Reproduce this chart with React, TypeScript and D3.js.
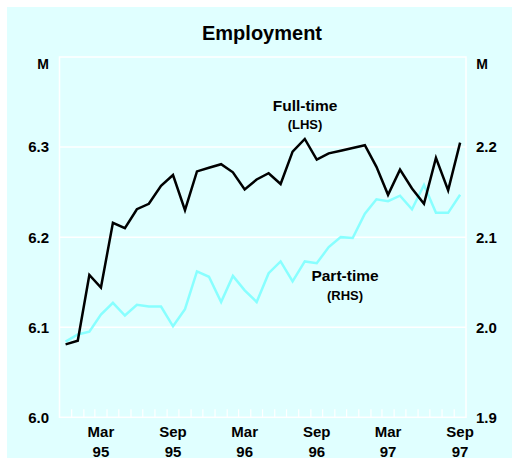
import React from 'react';
import * as d3 from 'd3';

// monthly observations, Dec 1994 .. Sep 1997
const START = new Date(1994, 11, 1);
const fullTime = [
  6.081, 6.085, 6.158, 6.144, 6.216, 6.21, 6.231, 6.237, 6.257, 6.269,
  6.23, 6.273, 6.277, 6.281, 6.272, 6.253, 6.264, 6.271, 6.259, 6.295,
  6.309, 6.286, 6.293, 6.296, 6.299, 6.302, 6.278, 6.247, 6.275, 6.254,
  6.237, 6.288, 6.252, 6.305,
];
const partTime = [
  1.984, 1.992, 1.995, 2.014, 2.027, 2.013, 2.025, 2.023, 2.023, 2.001,
  2.02, 2.062, 2.056, 2.028, 2.057, 2.041, 2.028, 2.06, 2.073, 2.051,
  2.073, 2.071, 2.089, 2.1, 2.099, 2.126, 2.142, 2.14, 2.146, 2.131,
  2.158, 2.127, 2.127, 2.147,
];
const leftTicks = [6.0, 6.1, 6.2, 6.3];
const rightTicks = [1.9, 2.0, 2.1, 2.2];
const xLabels = [
  { month: new Date(1995, 2, 1), line1: 'Mar', line2: '95' },
  { month: new Date(1995, 8, 1), line1: 'Sep', line2: '95' },
  { month: new Date(1996, 2, 1), line1: 'Mar', line2: '96' },
  { month: new Date(1996, 8, 1), line1: 'Sep', line2: '96' },
  { month: new Date(1997, 2, 1), line1: 'Mar', line2: '97' },
  { month: new Date(1997, 8, 1), line1: 'Sep', line2: '97' },
];

const W = 512;
const H = 458;
const FONT = 'Arial, "Liberation Sans", sans-serif';

export default function App() {
  const left = 59.5, right = 466, top = 57, bottom = 417.3;

  const x = d3.scaleTime()
    .domain([new Date(1994, 11, 1), new Date(1997, 9, 1)])
    .range([left, right]);
  const yL = d3.scaleLinear().domain([6.0, 6.4]).range([bottom, top]);
  const yR = d3.scaleLinear().domain([1.9, 2.3]).range([bottom, top]);

  // point sits in the middle of its month
  const midMonth = (i: number) => {
    const a = d3.timeMonth.offset(START, i);
    const b = d3.timeMonth.offset(START, i + 1);
    return (x(a) + x(b)) / 2;
  };

  const ftLine = d3.line<number>().x((_, i) => midMonth(i)).y(d => yL(d));
  const ptLine = d3.line<number>().x((_, i) => midMonth(i)).y(d => yR(d));

  const monthTicks = d3.timeMonth.range(new Date(1995, 0, 1), new Date(1997, 9, 1));

  return (
    <div style={{ position: 'absolute', left: 0, top: 0 }}>
      <svg width={W} height={H} style={{ display: 'block' }}>
        <rect x={7} y={7} width={W - 7} height={H - 7} fill="#e0ffff" />

        <text x={262} y={40} textAnchor="middle" fontFamily={FONT} fontWeight="bold" fontSize={20}>
          Employment
        </text>
        <text x={43} y={69} textAnchor="middle" fontFamily={FONT} fontWeight="bold" fontSize={14}>M</text>
        <text x={482} y={69} textAnchor="middle" fontFamily={FONT} fontWeight="bold" fontSize={14}>M</text>

        {/* gridlines */}
        {leftTicks.slice(1).map(t => (
          <line key={t} x1={left} x2={right} y1={yL(t)} y2={yL(t)} stroke="#fff" strokeWidth={1.5} />
        ))}

        {/* month ticks */}
        {monthTicks.map(m => (
          <line key={+m} x1={x(m)} x2={x(m)} y1={bottom} y2={bottom - 8} stroke="#fff" strokeWidth={1.2} />
        ))}

        {/* frame */}
        <rect x={left} y={top} width={right - left} height={bottom - top} fill="none" stroke="#fff" strokeWidth={1.5} />

        {leftTicks.map(t => (
          <text key={t} x={49} y={yL(t)} dy="0.36em" textAnchor="end" fontFamily={FONT} fontWeight="bold" fontSize={15}>
            {t.toFixed(1)}
          </text>
        ))}
        {rightTicks.map(t => (
          <text key={t} x={476} y={yR(t)} dy="0.36em" textAnchor="start" fontFamily={FONT} fontWeight="bold" fontSize={15}>
            {t.toFixed(1)}
          </text>
        ))}

        {xLabels.map(l => {
          const cx = (x(l.month) + x(d3.timeMonth.offset(l.month, 1))) / 2;
          return (
            <g key={l.line1 + l.line2} fontFamily={FONT} fontWeight="bold" fontSize={15} textAnchor="middle">
              <text x={cx} y={437}>{l.line1}</text>
              <text x={cx} y={456.5}>{l.line2}</text>
            </g>
          );
        })}

        <path d={ptLine(partTime) || ''} fill="none" stroke="#88ffff" strokeWidth={2.5} strokeLinejoin="miter" />
        <path d={ftLine(fullTime) || ''} fill="none" stroke="#000" strokeWidth={2.5} strokeLinejoin="miter" />

        <text x={305} y={110.5} textAnchor="middle" fontFamily={FONT} fontWeight="bold" fontSize={15.5}>Full-time</text>
        <text x={305} y={129} textAnchor="middle" fontFamily={FONT} fontWeight="bold" fontSize={13}>(LHS)</text>
        <text x={345} y={280.5} textAnchor="middle" fontFamily={FONT} fontWeight="bold" fontSize={15.5}>Part-time</text>
        <text x={345} y={300} textAnchor="middle" fontFamily={FONT} fontWeight="bold" fontSize={13}>(RHS)</text>
      </svg>
    </div>
  );
}
